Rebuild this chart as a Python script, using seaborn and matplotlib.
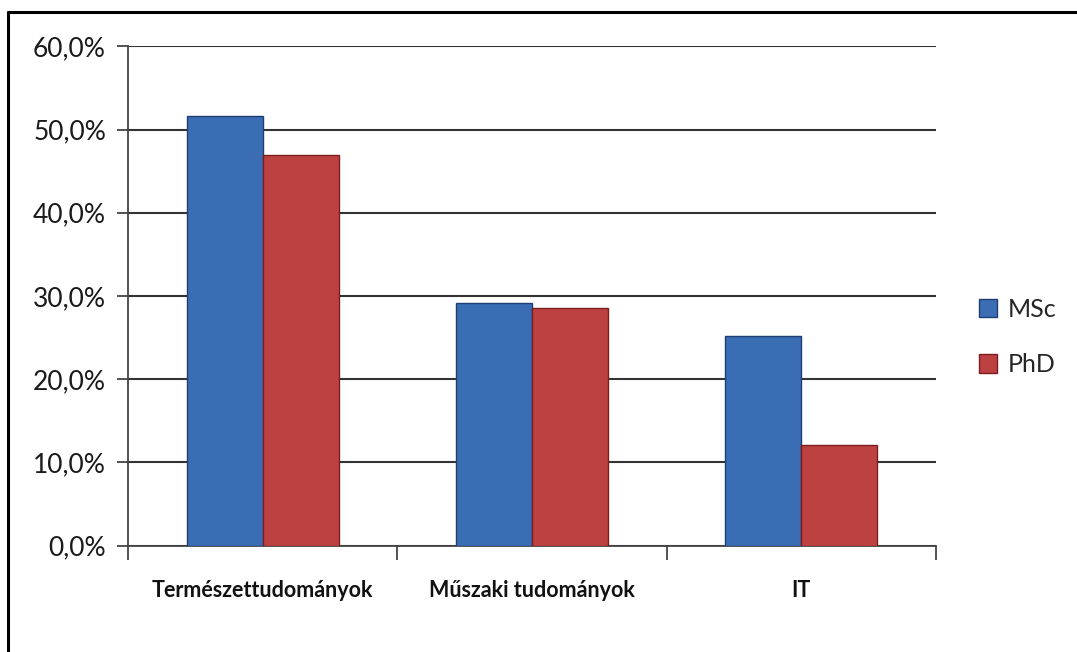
import matplotlib
matplotlib.use("Agg")
import matplotlib.pyplot as plt
from matplotlib.lines import Line2D
from matplotlib.ticker import FuncFormatter, FixedLocator
import seaborn as sns
import pandas as pd

categories = ["Természettudományok", "Műszaki tudományok", "IT"]
series = ["MSc", "PhD"]
msc_values = [51.6, 29.2, 25.2]
phd_values = [46.9, 28.6, 12.1]
colors = {"MSc": "#3A6DB4", "PhD": "#BC4140"}
edges = {"MSc": "#1F3F73", "PhD": "#7A1F1E"}

rows = []
for c, v in zip(categories, msc_values):
    rows.append({"cat": c, "series": "MSc", "val": v})
for c, v in zip(categories, phd_values):
    rows.append({"cat": c, "series": "PhD", "val": v})
df = pd.DataFrame(rows)

sns.set_theme(style="white")
plt.rcParams['font.family'] = ['Lato', 'DejaVu Sans']

fig = plt.figure(figsize=(10.77, 6.52), dpi=100)
ax = fig.add_axes([0.119, 0.163, 0.750, 0.766])

sns.barplot(data=df, x="cat", y="val", hue="series", order=categories,
            hue_order=series, palette=colors, width=0.563, gap=0,
            saturation=1, ax=ax, legend=True, zorder=3)

for cont, s in zip(ax.containers, series):
    for p in cont.patches:
        p.set_edgecolor(edges[s])
        p.set_linewidth(1.0)

ax.set_ylim(0, 60)
ax.set_xlim(-0.5, 2.5)
ax.set_yticks([0, 10, 20, 30, 40, 50, 60])
ax.yaxis.set_major_formatter(FuncFormatter(lambda v, p: f"{v:.1f}".replace(".", ",") + "%"))
ax.grid(axis="y", color="#333333", linewidth=1.5, zorder=0)
ax.set_axisbelow(True)
for s in ["top", "right"]:
    ax.spines[s].set_visible(False)
ax.spines["left"].set_color("#444444")
ax.spines["bottom"].set_color("#444444")
ax.spines["left"].set_linewidth(1.3)
ax.spines["bottom"].set_linewidth(1.3)
ax.set_xlabel("")
ax.set_ylabel("")

ax.tick_params(axis="y", which="major", left=True, length=8, width=1.3, color="#444444",
               labelsize=19, labelcolor="#1a1a1a", pad=8)
ax.xaxis.set_major_locator(FixedLocator([0, 1, 2]))
ax.set_xticklabels(categories, fontweight="bold", fontsize=15.5, color="#111111")
ax.tick_params(axis="x", which="major", length=0, pad=25)
ax.xaxis.set_minor_locator(FixedLocator([-0.5, 0.5, 1.5, 2.5]))
ax.tick_params(axis="x", which="minor", bottom=True, length=10, width=1.3, color="#444444")

leg = ax.legend(loc="center left", bbox_to_anchor=(1.025, 0.418), frameon=False,
                fontsize=18, handlelength=0.75, handleheight=0.75, handletextpad=0.4,
                labelspacing=1.3)
for h, s in zip(leg.legend_handles, series):
    h.set_edgecolor(edges[s])

fig.add_artist(Line2D([8/1077, 8/1077], [0, 1 - 12/652], color="black", linewidth=2.2))
fig.add_artist(Line2D([8/1077, 1], [1 - 12/652, 1 - 12/652], color="black", linewidth=2.2))

fig.savefig("out.png", dpi=100, facecolor="white")
